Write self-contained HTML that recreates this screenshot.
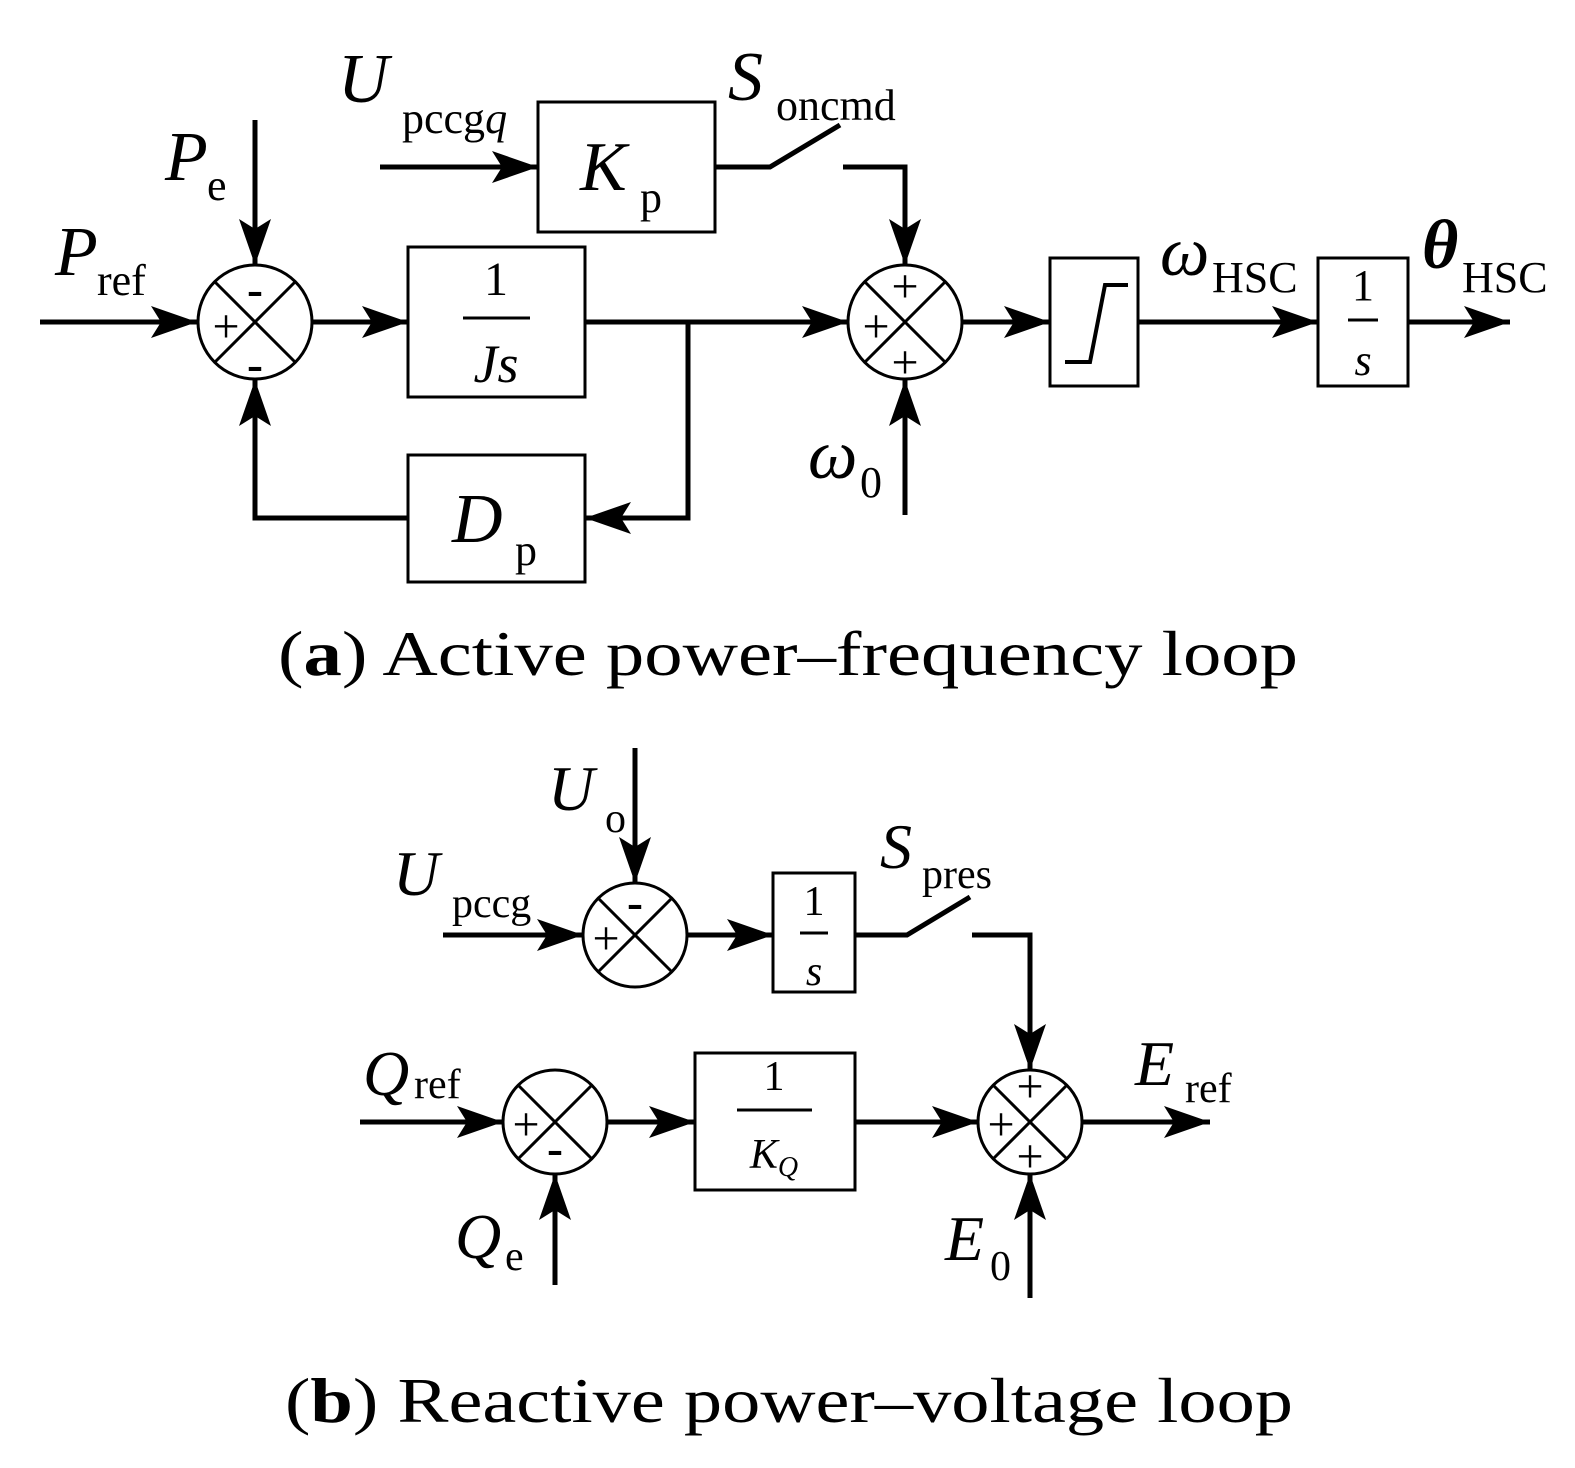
<!DOCTYPE html>
<html><head><meta charset="utf-8"><style>
html,body{margin:0;padding:0;background:#fff}
svg{display:block}
text{font-family:"Liberation Serif",serif;fill:#000}
.i{font-style:italic}
</style></head><body>
<svg width="1575" height="1468" viewBox="0 0 1575 1468" xmlns="http://www.w3.org/2000/svg">
<defs>
<marker id="a" markerWidth="46" markerHeight="32" refX="46" refY="16" orient="auto" markerUnits="userSpaceOnUse">
<polygon points="0,0 46,16 0,32 10,16" fill="#000"/>
</marker>
</defs>
<g stroke="#000" stroke-width="5" fill="none">
<line x1="40" y1="322" x2="197" y2="322" marker-end="url(#a)"/>
<circle cx="255" cy="322" r="57" stroke-width="3"/>
<line x1="215" y1="282" x2="295" y2="362" stroke-width="3"/>
<line x1="295" y1="282" x2="215" y2="362" stroke-width="3"/>
<line x1="255" y1="120" x2="255" y2="265" marker-end="url(#a)"/>
<line x1="312" y1="322" x2="408" y2="322" marker-end="url(#a)"/>
<rect x="408" y="247" width="177" height="150" stroke-width="3"/>
<line x1="463" y1="318" x2="530" y2="318" stroke-width="3"/>
<line x1="585" y1="322" x2="848" y2="322" marker-end="url(#a)"/>
<polyline points="688,322 688,518 585,518" marker-end="url(#a)"/>
<rect x="408" y="455" width="177" height="127" stroke-width="3"/>
<polyline points="408,518 255,518 255,380" marker-end="url(#a)"/>
<line x1="380" y1="167" x2="538" y2="167" marker-end="url(#a)"/>
<rect x="538" y="102" width="177" height="130" stroke-width="3"/>
<polyline points="715,167 770,167 840,125"/>
<polyline points="843,167 905,167 905,265" marker-end="url(#a)"/>
<circle cx="905" cy="322" r="57" stroke-width="3"/>
<line x1="865" y1="282" x2="945" y2="362" stroke-width="3"/>
<line x1="945" y1="282" x2="865" y2="362" stroke-width="3"/>
<line x1="905" y1="515" x2="905" y2="380" marker-end="url(#a)"/>
<line x1="962" y1="322" x2="1050" y2="322" marker-end="url(#a)"/>
<rect x="1050" y="258" width="88" height="128" stroke-width="3"/>
<polyline points="1065,362 1090,362 1105,285 1128,285" stroke-width="4"/>
<line x1="1138" y1="322" x2="1318" y2="322" marker-end="url(#a)"/>
<rect x="1318" y="258" width="90" height="128" stroke-width="3"/>
<line x1="1348" y1="320" x2="1378" y2="320" stroke-width="3"/>
<line x1="1408" y1="322" x2="1510" y2="322" marker-end="url(#a)"/>
<line x1="635" y1="748" x2="635" y2="883" marker-end="url(#a)"/>
<line x1="443" y1="935" x2="583" y2="935" marker-end="url(#a)"/>
<circle cx="635" cy="935" r="52" stroke-width="3"/>
<line x1="598" y1="898" x2="672" y2="972" stroke-width="3"/>
<line x1="672" y1="898" x2="598" y2="972" stroke-width="3"/>
<line x1="688" y1="935" x2="773" y2="935" marker-end="url(#a)"/>
<rect x="773" y="873" width="82" height="119" stroke-width="3"/>
<line x1="800" y1="933" x2="828" y2="933" stroke-width="3"/>
<polyline points="855,935 907,935 970,897"/>
<polyline points="972,935 1030,935 1030,1070" marker-end="url(#a)"/>
<line x1="360" y1="1122" x2="503" y2="1122" marker-end="url(#a)"/>
<circle cx="555" cy="1122" r="52" stroke-width="3"/>
<line x1="518" y1="1085" x2="592" y2="1159" stroke-width="3"/>
<line x1="592" y1="1085" x2="518" y2="1159" stroke-width="3"/>
<line x1="555" y1="1285" x2="555" y2="1174" marker-end="url(#a)"/>
<line x1="607" y1="1122" x2="695" y2="1122" marker-end="url(#a)"/>
<rect x="695" y="1053" width="160" height="137" stroke-width="3"/>
<line x1="737" y1="1110" x2="812" y2="1110" stroke-width="3"/>
<line x1="855" y1="1122" x2="978" y2="1122" marker-end="url(#a)"/>
<circle cx="1030" cy="1122" r="52" stroke-width="3"/>
<line x1="993" y1="1085" x2="1067" y2="1159" stroke-width="3"/>
<line x1="1067" y1="1085" x2="993" y2="1159" stroke-width="3"/>
<line x1="1030" y1="1298" x2="1030" y2="1174" marker-end="url(#a)"/>
<line x1="1082" y1="1122" x2="1210" y2="1122" marker-end="url(#a)"/>
</g>
<g font-size="48" text-anchor="middle">
<text x="255" y="305" font-weight="bold">-</text>
<text x="226" y="342">+</text>
<text x="255" y="380" font-weight="bold">-</text>
<text x="905" y="302">+</text>
<text x="876" y="342">+</text>
<text x="905" y="378">+</text>
<text x="635" y="918" font-weight="bold">-</text>
<text x="606" y="954">+</text>
<text x="526" y="1140">+</text>
<text x="555" y="1164" font-weight="bold">-</text>
<text x="1030" y="1102">+</text>
<text x="1001" y="1140">+</text>
<text x="1030" y="1172">+</text>
</g>
<text class="i" x="55" y="275" font-size="70">P</text><text x="97" y="295" font-size="44">ref</text>
<text class="i" x="165" y="180" font-size="70">P</text><text x="207" y="200" font-size="44">e</text>
<text class="i" x="338" y="102" font-size="70">U</text><text x="402" y="133" font-size="44">pccg<tspan class="i">q</tspan></text>
<text class="i" x="728" y="100" font-size="70">S</text><text x="776" y="120" font-size="44">oncmd</text>
<text class="i" x="580" y="190" font-size="70">K</text><text x="640" y="212" font-size="44">p</text>
<text class="i" x="452" y="542" font-size="70">D</text><text x="515" y="565" font-size="44">p</text>
<text x="496" y="295" font-size="48" text-anchor="middle">1</text>
<text class="i" x="496" y="382" font-size="54" text-anchor="middle">Js</text>
<text class="i" x="808" y="478" font-size="70">ω</text><text x="860" y="497" font-size="44">0</text>
<text class="i" x="1160" y="275" font-size="70">ω</text><text x="1212" y="292" font-size="44">HSC</text>
<text class="i" x="1422" y="268" font-size="70" font-weight="bold">θ</text><text x="1462" y="292" font-size="44">HSC</text>
<text x="1363" y="300" font-size="44" text-anchor="middle">1</text>
<text class="i" x="1363" y="375" font-size="44" text-anchor="middle">s</text>
<text x="278" y="675" font-size="64" textLength="1020" lengthAdjust="spacingAndGlyphs">(<tspan font-weight="bold">a</tspan>) Active power–frequency loop</text>
<text class="i" x="548" y="810" font-size="64">U</text><text x="605" y="832" font-size="42">o</text>
<text class="i" x="393" y="895" font-size="64">U</text><text x="452" y="917" font-size="42">pccg</text>
<text class="i" x="880" y="868" font-size="64">S</text><text x="922" y="888" font-size="42">pres</text>
<text x="814" y="915" font-size="42" text-anchor="middle">1</text>
<text class="i" x="814" y="985" font-size="42" text-anchor="middle">s</text>
<text class="i" x="363" y="1095" font-size="64">Q</text><text x="414" y="1098" font-size="42">ref</text>
<text class="i" x="455" y="1258" font-size="64">Q</text><text x="505" y="1270" font-size="42">e</text>
<text x="774" y="1090" font-size="42" text-anchor="middle">1</text>
<text class="i" x="774" y="1168" font-size="42" text-anchor="middle">K<tspan font-size="28" dy="8">Q</tspan></text>
<text class="i" x="1135" y="1085" font-size="64">E</text><text x="1185" y="1102" font-size="42">ref</text>
<text class="i" x="945" y="1260" font-size="64">E</text><text x="990" y="1280" font-size="42">0</text>
<text x="285" y="1422" font-size="64" textLength="1008" lengthAdjust="spacingAndGlyphs">(<tspan font-weight="bold">b</tspan>) Reactive power–voltage loop</text>
</svg>
</body></html>
